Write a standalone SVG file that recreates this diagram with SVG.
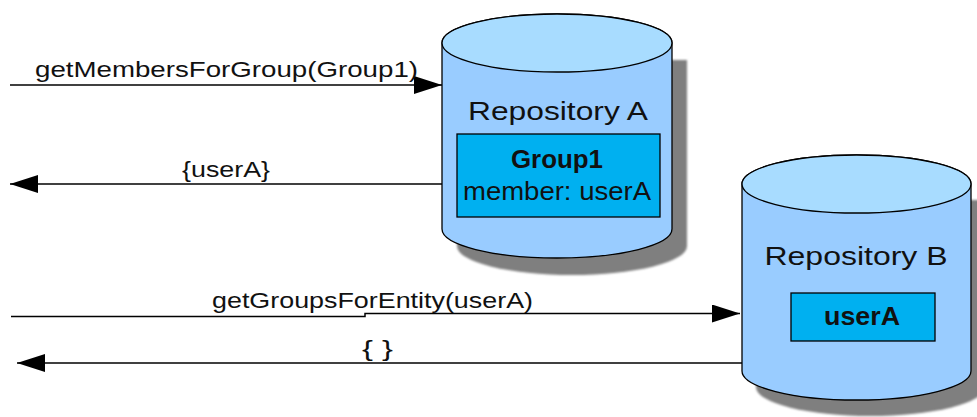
<svg xmlns="http://www.w3.org/2000/svg" width="977" height="417" viewBox="0 0 977 417">
<style>
.body{fill:#99ccff;stroke:#000;stroke-width:1.3}
.top{fill:#a8dcff;stroke:#000;stroke-width:1.3}
.shadow{fill:#7f7f7f}
.box{fill:#00b0f0;stroke:#000;stroke-width:1.3}
.conn{fill:none;stroke:#000;stroke-width:1.5}
text{font-family:"Liberation Sans",Arial,sans-serif;fill:#111}
.lbl{font-size:22px}
.title{font-size:26px;text-anchor:middle}
.inner{font-size:25px;text-anchor:middle}
.bold{font-weight:bold}
</style>
<defs>
<filter id="blur" x="-10%" y="-10%" width="120%" height="120%"><feGaussianBlur stdDeviation="1.2"/></filter>
<marker id="arrow" viewBox="0 0 28 18" markerWidth="28" markerHeight="18" refX="28" refY="9" orient="auto" markerUnits="userSpaceOnUse">
<path d="M0,0 L28,9 L0,18 Z" fill="#000"/>
</marker>
</defs>
<rect width="977" height="417" fill="#fff"/>
<g id="repoA">
<path class="shadow" filter="url(#blur)" transform="translate(15,17)" d="M442,43 V229 A115,29 0 0 0 672,229 V43 Z"/>
<path class="body" d="M442,43 V229 A115,29 0 0 0 672,229 V43 A115,29 0 0 0 442,43 Z"/>
<ellipse class="top" cx="557" cy="43" rx="115" ry="29"/>
<text class="title" x="558" y="120" textLength="180" lengthAdjust="spacingAndGlyphs">Repository A</text>
<rect class="box" x="457" y="134" width="203" height="83"/>
<text class="inner bold" x="557" y="168" textLength="92" lengthAdjust="spacingAndGlyphs">Group1</text>
<text class="inner" x="557" y="200" textLength="188" lengthAdjust="spacingAndGlyphs">member: userA</text>
</g>
<g id="repoB">
<path class="shadow" filter="url(#blur)" transform="translate(14,16)" d="M742,184 V371 A114.5,29 0 0 0 971,371 V184 Z"/>
<path class="body" d="M742,184 V371 A114.5,29 0 0 0 971,371 V184 A114.5,29 0 0 0 742,184 Z"/>
<ellipse class="top" cx="856.5" cy="184" rx="114.5" ry="29"/>
<text class="title" x="856" y="265" textLength="183" lengthAdjust="spacingAndGlyphs">Repository B</text>
<rect class="box" x="791" y="293" width="144" height="48"/>
<text class="inner bold" x="862" y="325" textLength="76" lengthAdjust="spacingAndGlyphs">userA</text>
</g>
<g id="connectors">
<path class="conn" d="M10,85 H442" marker-end="url(#arrow)"/>
<path class="conn" d="M442,184 H10" marker-end="url(#arrow)"/>
<path class="conn" d="M11,316.5 H365 V313.5 H740" marker-end="url(#arrow)"/>
<path class="conn" d="M742,363 H17" marker-end="url(#arrow)"/>
<text class="lbl" x="35" y="77" textLength="383" lengthAdjust="spacingAndGlyphs">getMembersForGroup(Group1)</text>
<text class="lbl" x="182" y="177" textLength="88" lengthAdjust="spacingAndGlyphs">{userA}</text>
<text class="lbl" x="212" y="308" textLength="321" lengthAdjust="spacingAndGlyphs">getGroupsForEntity(userA)</text>
<text class="lbl" x="362" y="356" textLength="31" lengthAdjust="spacingAndGlyphs">{ }</text>
</g>
</svg>
